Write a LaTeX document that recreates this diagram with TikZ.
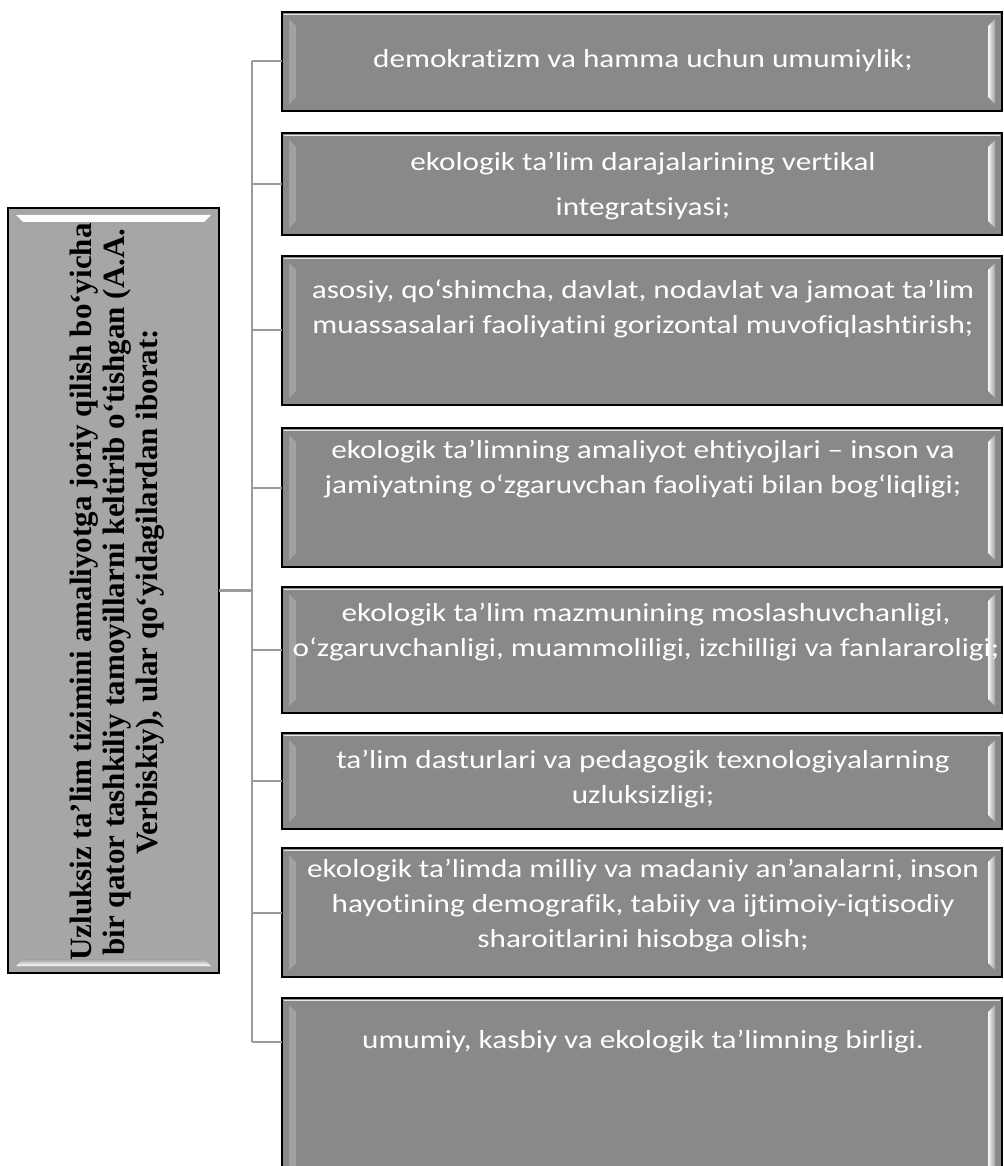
\documentclass[tikz,border=0pt]{standalone}
\usepackage{fontspec}
\setmainfont{Carlito}
\newfontfamily\boxfont[FakeStretch=1.2, Ligatures=NoCommon, RawFeature=-liga]{Carlito}
\newfontfamily\serifbold{Liberation Serif}
\definecolor{rfill}{HTML}{898989}
\definecolor{lfill}{HTML}{A6A6A6}
\definecolor{connc}{HTML}{9A9A9A}
\definecolor{bevel}{HTML}{A0A0A0}
\begin{document}
\begin{tikzpicture}[x=1pt,y=-1pt,
  rbox/.style={draw=black, line width=1.6pt, fill=rfill, inner sep=0pt, outer sep=0pt,
    minimum width=720pt,
    path picture={
      \fill[left color=bevel, right color=white!95!gray]
        ([xshift=7pt,yshift=-7pt]path picture bounding box.north west) --
        ([xshift=14pt,yshift=-14pt]path picture bounding box.north west) --
        ([xshift=14pt,yshift=14pt]path picture bounding box.south west) --
        ([xshift=7pt,yshift=7pt]path picture bounding box.south west) -- cycle;
      \fill[right color=bevel, left color=white!95!gray]
        ([xshift=-7pt,yshift=-7pt]path picture bounding box.north east) --
        ([xshift=-14pt,yshift=-14pt]path picture bounding box.north east) --
        ([xshift=-14pt,yshift=14pt]path picture bounding box.south east) --
        ([xshift=-7pt,yshift=7pt]path picture bounding box.south east) -- cycle;
      \draw[white!80!gray, line width=0.8pt]
        ([xshift=2pt,yshift=-2pt]path picture bounding box.north west) --
        ([xshift=-2pt,yshift=-2pt]path picture bounding box.north east);
    }},
  lbox/.style={draw=black, line width=1.6pt, fill=lfill, inner sep=0pt, outer sep=0pt,
    path picture={
      \fill[top color=white, bottom color=bevel]
        ([xshift=8pt,yshift=-7pt]path picture bounding box.north west) --
        ([xshift=-8pt,yshift=-7pt]path picture bounding box.north east) --
        ([xshift=-15pt,yshift=-14pt]path picture bounding box.north east) --
        ([xshift=15pt,yshift=-14pt]path picture bounding box.north west) -- cycle;
      \fill[bottom color=white, top color=bevel]
        ([xshift=8pt,yshift=7pt]path picture bounding box.south west) --
        ([xshift=-8pt,yshift=7pt]path picture bounding box.south east) --
        ([xshift=-15pt,yshift=14pt]path picture bounding box.south east) --
        ([xshift=15pt,yshift=14pt]path picture bounding box.south west) -- cycle;
    }},
  rtext/.style={text=white, font=\boxfont\fontsize{26}{35}\selectfont, align=center, inner sep=0pt},
  ltext/.style={text=black, font=\serifbold\bfseries\fontsize{31}{33}\selectfont, align=center, inner sep=0pt, rotate=90},
  conn/.style={draw=connc, line width=2.4pt}
]
\useasboundingbox (0,0) rectangle (1003,1166);
\clip (0,0) rectangle (1003,1166);
\fill[white] (0,0) rectangle (1003,1166);

\coordinate (k1) at (252,61);
\coordinate (k2) at (252,184);
\coordinate (k3) at (252,330);
\coordinate (k4) at (252,488);
\coordinate (km) at (252,590.5);
\coordinate (k5) at (252,650);
\coordinate (k6) at (252,781);
\coordinate (k7) at (252,913);
\coordinate (k8) at (252,1042);

\node[lbox, minimum width=211pt, minimum height=765pt] (L) at (113.5,590.5) {};
\node[rbox, minimum height=99pt]  (b1) at (642,61.5) {};
\node[rbox, minimum height=102pt] (b2) at (642,184) {};
\node[rbox, minimum height=149pt] (b3) at (642,330.5) {};
\node[rbox, minimum height=139pt] (b4) at (642,497.5) {};
\node[rbox, minimum height=126pt] (b5) at (642,650) {};
\node[rbox, minimum height=96pt]  (b6) at (642,781) {};
\node[rbox, minimum height=129pt] (b7) at (642,912.5) {};
\node[rbox, minimum height=184pt] (b8) at (642,1090) {};

\draw[conn] (k1) -- (k8);
\draw[conn] (L.east |- km) -- (km);
\foreach \i in {1,...,8} { \draw[conn] (k\i) -- (k\i -| b\i.west); }

\node[ltext] (Lt) at (117,592) {Uzluksiz ta’lim tizimini amaliyotga joriy qilish bo‘yicha\\bir qator tashkiliy tamoyillarni keltirib o‘tishgan (A.A.\\Verbiskiy), ular qo‘yidagilardan iborat:};

\node[rtext] (t1) at (643,61) {demokratizm va hamma uchun umumiylik;};
\node[rtext, font=\boxfont\fontsize{26}{45}\selectfont] (t2) at (643,186) {ekologik ta’lim darajalarining vertikal\\integratsiyasi;};
\node[rtext] (t3) at (643,309) {asosiy, qo‘shimcha, davlat, nodavlat va jamoat ta’lim\\muassasalari faoliyatini gorizontal muvofiqlashtirish;};
\node[rtext] (t4) at (643,469) {ekologik ta’limning amaliyot ehtiyojlari – inson va\\jamiyatning o‘zgaruvchan faoliyati bilan bog‘liqligi;};
\node[rtext] (t5) at (646,632) {ekologik ta’lim mazmunining moslashuvchanligi,\\o‘zgaruvchanligi, muammoliligi, izchilligi va fanlararoligi;};
\node[rtext] (t6) at (643,779) {ta’lim dasturlari va pedagogik texnologiyalarning\\uzluksizligi;};
\node[rtext] (t7) at (643,906) {ekologik ta’limda milliy va madaniy an’analarni, inson\\hayotining demografik, tabiiy va ijtimoiy-iqtisodiy\\sharoitlarini hisobga olish;};
\node[rtext] (t8) at (643,1042) {umumiy, kasbiy va ekologik ta’limning birligi.};
\end{tikzpicture}
\end{document}
